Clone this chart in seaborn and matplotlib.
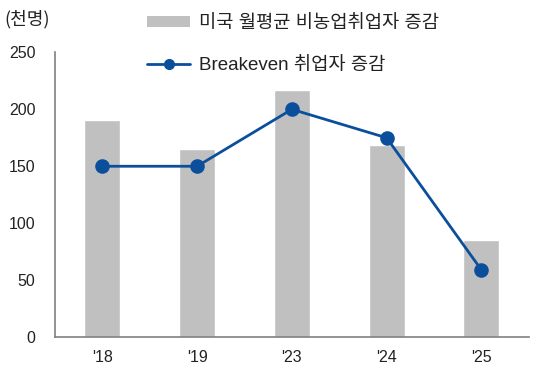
import pandas as pd
import matplotlib
matplotlib.use('Agg')
import matplotlib.pyplot as plt
import seaborn as sns
from matplotlib.lines import Line2D
from matplotlib.patches import Patch

# Datos (miles de personas)
years = ["'18", "'19", "'23", "'24", "'25"]
nonfarm = [191, 165, 217, 169, 85]
breakeven = [150, 150, 200, 175, 59]

bar_label = '미국 월평균 비농업취업자 증감'
line_label = 'Breakeven 취업자 증감'

df = pd.DataFrame({'year': years, 'nonfarm': nonfarm, 'breakeven': breakeven})

sns.set_style('white')
plt.rcParams['font.family'] = ['Liberation Sans', 'Noto Sans CJK KR', 'DejaVu Sans']

fig = plt.figure(figsize=(5.44, 3.77), dpi=100)
ax = fig.add_axes([0.101, 0.106, 0.871, 0.755])

bar_color = '#c0c0c0'
line_color = '#0b4f9c'

sns.barplot(data=df, x='year', y='nonfarm', color=bar_color, width=0.38,
            saturation=1, ax=ax)
sns.pointplot(data=df, x='year', y='breakeven', color=line_color,
              markers='o', markersize=9, linewidth=2, ax=ax)

ax.set_xlim(-0.5, 4.5)
ax.set_ylim(0, 250)
ax.set_yticks([0, 50, 100, 150, 200, 250])
ax.set_xlabel('')
ax.set_ylabel('')

for s in ['top', 'right']:
    ax.spines[s].set_visible(False)
for s in ['left', 'bottom']:
    ax.spines[s].set_color('#808080')
    ax.spines[s].set_linewidth(1.2)

ax.tick_params(axis='y', length=0, pad=14, labelsize=11.5, labelcolor='#222222')
ax.tick_params(axis='x', which='major', length=0, pad=9, labelsize=11.5,
               labelcolor='#222222')
ax.set_xticks([-0.5, 0.5, 1.5, 2.5, 3.5, 4.5], minor=True)
ax.tick_params(axis='x', which='minor', direction='in', length=4,
               color='#808080', width=1)

fig.text(0.008, 0.95, '(천명)', fontsize=13, color='#222222',
         family=['Noto Sans CJK KR', 'DejaVu Sans'], va='center')

handles = [Patch(facecolor=bar_color, edgecolor='none'),
           Line2D([0], [0], color=line_color, lw=2, marker='o', markersize=7)]
leg = fig.legend(handles, [bar_label, line_label], loc='upper left',
                 bbox_to_anchor=(0.24, 1.005), frameon=False,
                 prop={'family': ['Liberation Sans', 'Noto Sans CJK KR', 'DejaVu Sans'],
                       'size': 13.5},
                 handlelength=2.25, handleheight=0.5, labelspacing=1.35,
                 handletextpad=0.5)
for t in leg.get_texts():
    t.set_color('#222222')

fig.savefig('out.png', dpi=100)
